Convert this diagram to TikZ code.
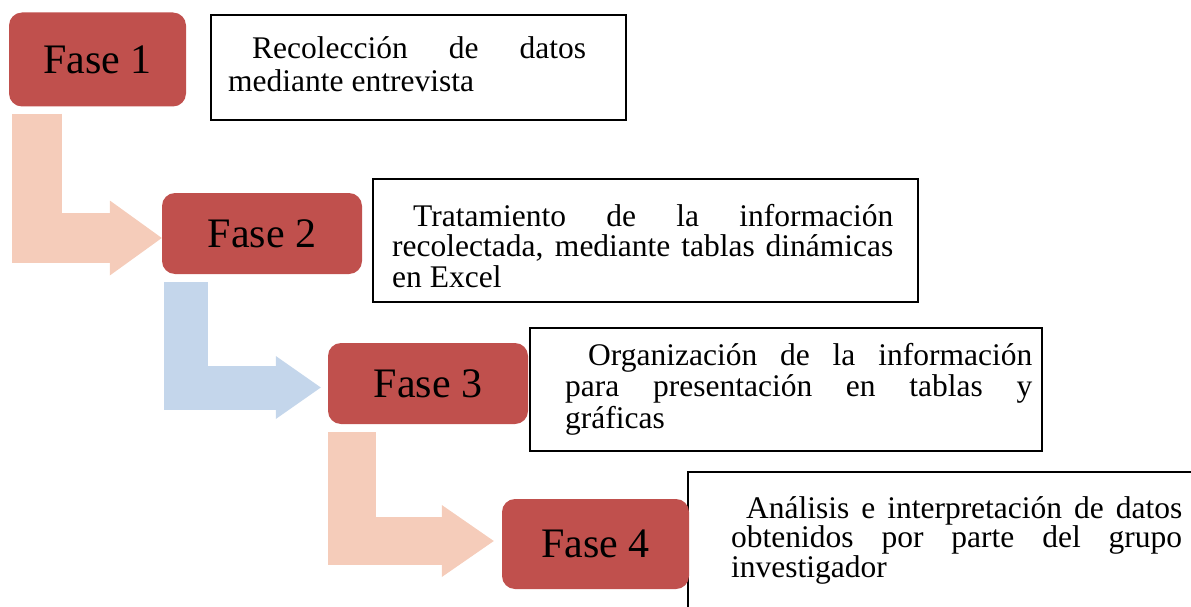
\documentclass[tikz,border=0pt]{standalone}
\usepackage{fontspec}
\setmainfont{Liberation Serif}
\usepackage{xcolor}
\usepackage{tikz}
\usetikzlibrary{arrows.meta, positioning}
\definecolor{faserojo}{HTML}{C0504D}
\definecolor{flechasalmon}{HTML}{F5CCBA}
\definecolor{flechaazul}{HTML}{C4D6EB}

\begin{document}
\begin{tikzpicture}[x=1pt, y=-1pt,
        fase/.style={fill=faserojo, rounded corners=13pt, inner sep=0pt,
                     font=\fontsize{42}{48}\selectfont},
        marco/.style={draw=black, line width=1.3pt, inner sep=0pt},
        texto/.style={anchor=north west, inner sep=0pt, align=justify, text width=#1,
                      execute at begin node={\tolerance=10000\hyphenpenalty=10000}},
        flecha/.style n args={3}{line width=#1, line join=miter,
                     -{Triangle[length=#2, width=#3, line width=0pt]}}
    ]
        \useasboundingbox (0,0) rectangle (1191,607);
        \clip (0,0) rectangle (1191,607);
        % marcos de texto
        \node[marco, minimum width=415pt, minimum height=105pt] (m1) at (418.5,67.5) {};
        \node[marco, minimum width=545pt, minimum height=123pt] (m2) at (645.5,240.5) {};
        \node[marco, minimum width=512pt, minimum height=123pt] (m3) at (786,389.5) {};
        \node[marco, minimum width=517pt, minimum height=148pt] (m4) at (946.5,546) {};
        % fases
        \node[fase, minimum width=177pt, minimum height=94pt] (f1) at (97.5,59.5) {Fase 1};
        \node[fase, minimum width=200pt, minimum height=81pt] (f2) at (262,233.5) {Fase 2};
        \node[fase, minimum width=200pt, minimum height=81pt] (f3) at (428,383.5) {Fase 3};
        \node[fase, minimum width=187pt, minimum height=90pt] (f4) at (595.5,544) {Fase 4};
        % flechas
        \draw[flecha={50pt}{52pt}{75pt}, flechasalmon]
            ([xshift=28pt, yshift=-7pt]f1.south west) |- ([yshift=-4.5pt]f2.west);
        \draw[flecha={44pt}{45pt}{63pt}, flechaazul]
            ([xshift=24pt, yshift=-8pt]f2.south west) |- ([xshift=-7pt, yshift=-4pt]f3.west);
        \draw[flecha={48pt}{52pt}{72pt}, flechasalmon]
            ([xshift=24pt, yshift=-8pt]f3.south west) |- ([xshift=-8pt, yshift=3pt]f4.west);
        % textos
        \node[texto=358pt, font=\fontsize{31.5}{33.4}\selectfont] (t1) at (228,28.3)
            {\rule{0pt}{30pt}\hspace*{24pt}Recolección de datos\linebreak mediante entrevista};
        \node[texto=501pt, font=\fontsize{31.5}{30.5}\selectfont] (t2) at (392,196)
            {\rule{0pt}{30pt}\hspace*{21pt}Tratamiento de la información\linebreak recolectada, mediante tablas dinámicas\linebreak en Excel};
        \node[texto=467pt, font=\fontsize{31.5}{31.5}\selectfont] (t3) at (565,335)
            {\rule{0pt}{30pt}\hspace*{23pt}Organización de la información\linebreak para presentación en tablas y\linebreak gráficas};
        \node[texto=451pt, font=\fontsize{31.5}{28.5}\selectfont] (t4) at (731,488)
            {\rule{0pt}{30pt}\hspace*{15pt}Análisis e interpretación de datos\linebreak obtenidos por parte del grupo\linebreak investigador};
    \end{tikzpicture}
\end{document}
